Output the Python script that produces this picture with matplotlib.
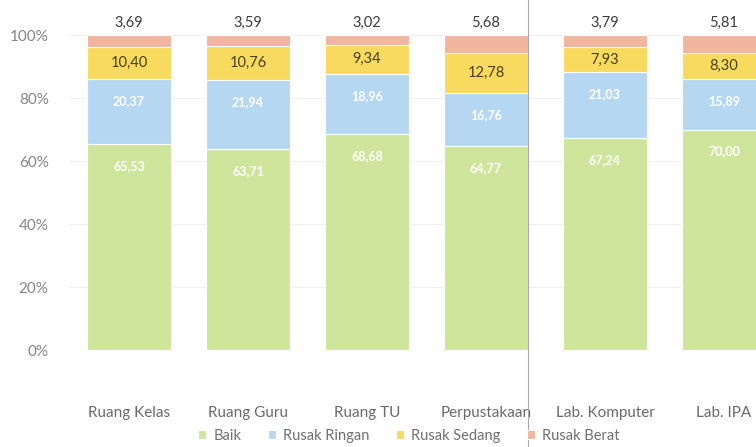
import matplotlib.pyplot as plt
import numpy as np
from matplotlib.lines import Line2D

plt.rcParams["font.family"] = ["Lato", "DejaVu Sans"]

# data (percent)
rooms = ["Ruang Kelas", "Ruang Guru", "Ruang TU", "Perpustakaan", "Lab. Komputer", "Lab. IPA"]
baik = [65.53, 63.71, 68.68, 64.77, 67.24, 70.00]
rusak_ringan = [20.37, 21.94, 18.96, 16.76, 21.03, 15.89]
rusak_sedang = [10.40, 10.76, 9.34, 12.78, 7.93, 8.30]
rusak_berat = [3.69, 3.59, 3.02, 5.68, 3.79, 5.81]

series = [
    ("Baik", baik, "#cfe59c"),
    ("Rusak Ringan", rusak_ringan, "#b6d7f2"),
    ("Rusak Sedang", rusak_sedang, "#f8da5e"),
    ("Rusak Berat", rusak_berat, "#f1b5a0"),
]


def fmt(v):
    return f"{v:.2f}".replace(".", ",")


fig = plt.figure(figsize=(7.56, 4.47), dpi=100)
ax = fig.add_axes([0.0919, 0.217, 0.9444, 0.7047])

x = np.arange(len(rooms))
bottom = np.zeros(len(rooms))
bars = []
for name, vals, color in series:
    vals = np.array(vals)
    ax.bar(x, vals, 0.70, bottom=bottom, color=color, edgecolor="white",
           linewidth=0.8, label=name, zorder=2)
    bars.append((name, vals, bottom.copy()))
    bottom = bottom + vals

# data labels
for name, vals, base in bars:
    for i, v in enumerate(vals):
        top = base[i] + v
        if name in ("Baik", "Rusak Ringan"):
            ax.text(i, top - 7, fmt(v), ha="center", va="center", fontsize=9,
                    color="white", fontweight="bold", zorder=3)
        elif name == "Rusak Sedang":
            ax.text(i, base[i] + v / 2, fmt(v), ha="center", va="center",
                    fontsize=10.5, color="#4a4020", zorder=3)
        else:
            ax.annotate(fmt(v), xy=(i, 100), xytext=(0, 8.5), textcoords="offset points",
                        ha="center", va="center", fontsize=10.5, color="#3c3c3c",
                        annotation_clip=False)

ax.set_xlim(-0.5, len(rooms) - 0.5)
ax.set_ylim(0, 100)
ax.set_yticks(np.arange(0, 101, 20))
ax.set_yticklabels([f"{t}%" for t in range(0, 101, 20)])
ax.set_xticks(x)
ax.set_xticklabels(rooms)
ax.tick_params(axis="y", length=0, pad=15, labelsize=11, labelcolor="#858585")
ax.tick_params(axis="x", length=0, pad=40, labelsize=11, labelcolor="#6a6a6a")
for s in ax.spines.values():
    s.set_visible(False)
ax.grid(axis="y", color="#f0f0f0", linewidth=0.8)
ax.set_axisbelow(True)

fig.legend(loc="center", bbox_to_anchor=(409 / 756, 1 - 436 / 447), ncol=4,
           frameon=False, fontsize=10.5, handlelength=0.55, handleheight=0.55,
           handletextpad=0.5, columnspacing=1.8, labelcolor="#707070",
           borderpad=0.1)

# fold line of the scanned page
fig.add_artist(Line2D([528 / 756, 528 / 756], [0, 1], color="#a8a8a8", linewidth=0.8))

fig.savefig("out.png", dpi=100)
